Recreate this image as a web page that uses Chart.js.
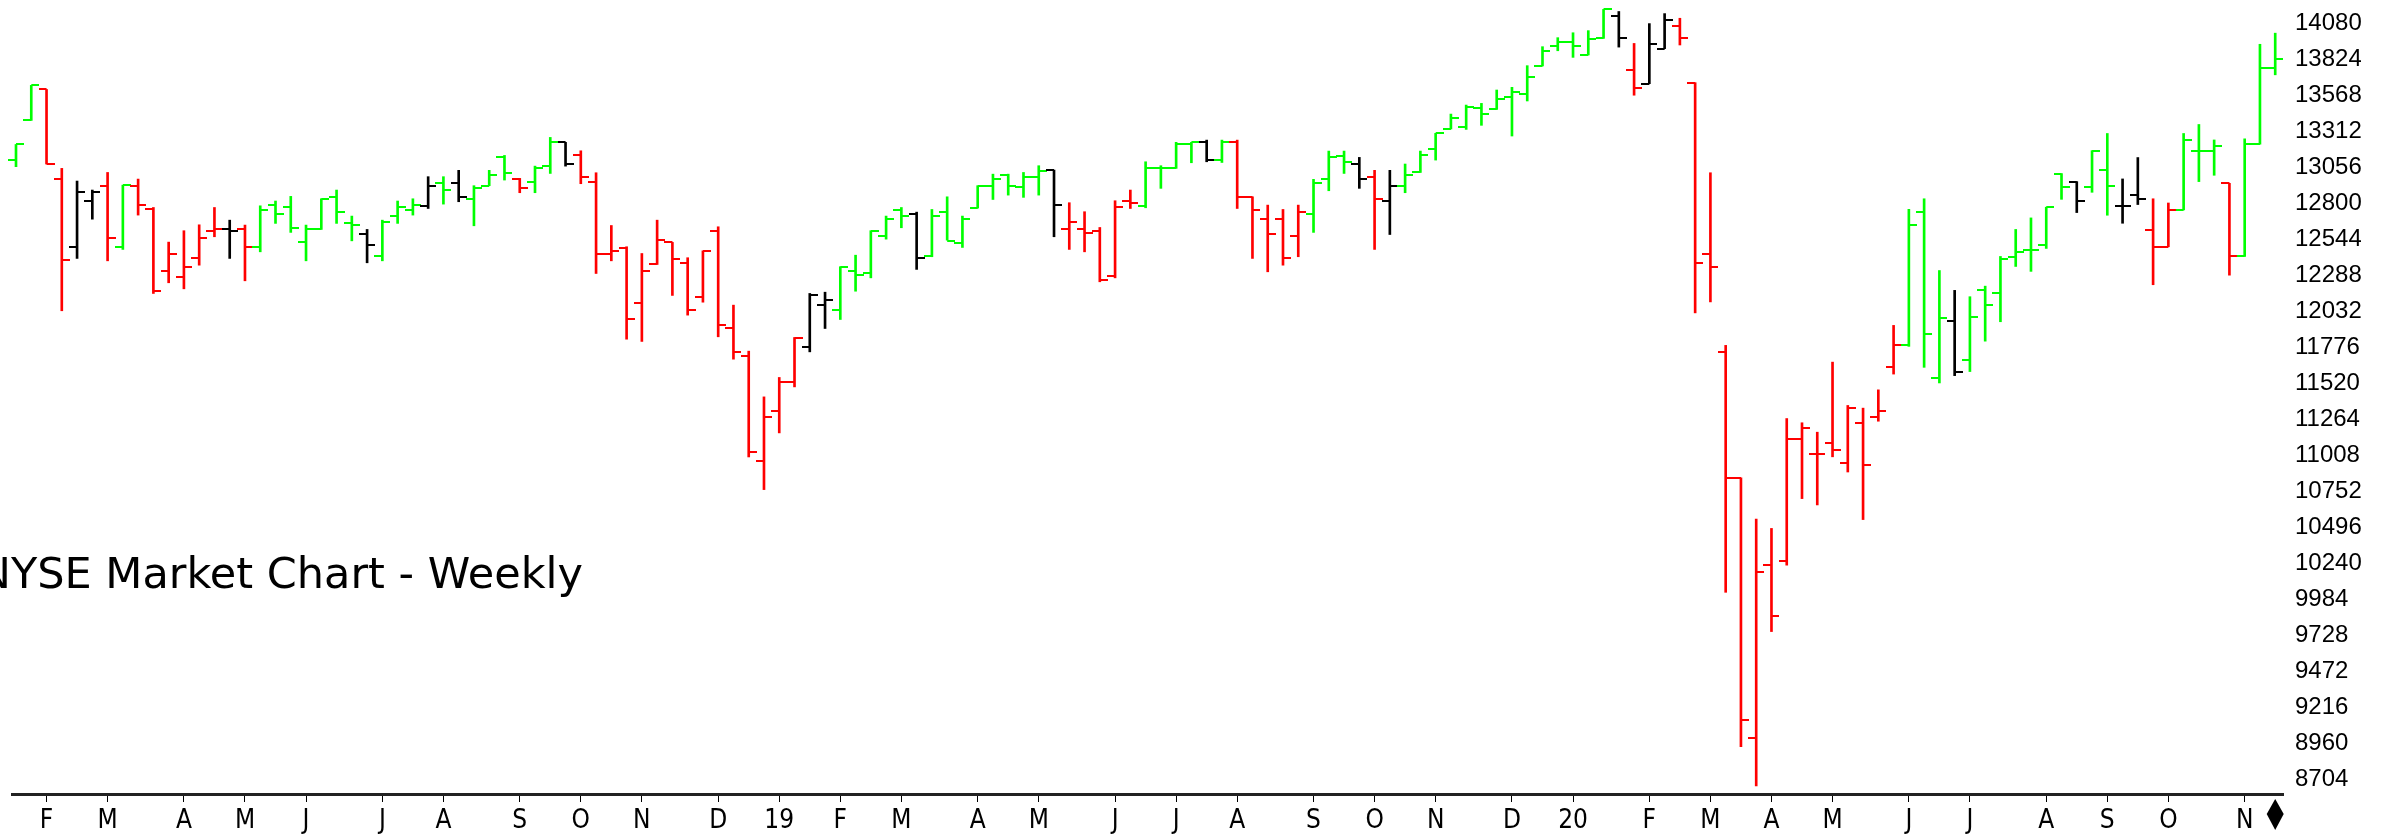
<!DOCTYPE html>
<html>
<head>
<meta charset="utf-8">
<title>NYSE Market Chart - Weekly</title>
<script src="https://cdn.jsdelivr.net/npm/chart.js@4.4.1/dist/chart.umd.min.js"></script>
<style>
  html, body { margin: 0; padding: 0; background: #ffffff; }
  #wrap { width: 2391px; height: 837px; }
</style>
</head>
<body>
<div id="wrap"><canvas id="nyse-canvas"></canvas></div>
<script>
var chartTitle = "NYSE Market Chart - Weekly";

// weekly OHLC, week 1 = Jan 19 2018 ... week 149 = Nov 20 2020
var opens = [
  13107, 13387, 13607, 12968, 12489, 12814, 12923, 12486, 12923, 12754,
  12318, 12273, 12411, 12598, 12612, 12612, 12486, 12785, 12768, 12520,
  12612, 12844, 12659, 12581, 12425, 12707, 12752, 12780, 12939, 12939,
  12828, 12923, 13129, 12968, 12951, 13062, 13231, 13138, 12951, 12441,
  12477, 12086, 12363, 12520, 12377, 12133, 12600, 11913, 11716, 10967,
  11322, 11526, 11778, 12072, 12038, 12318, 12299, 12565, 12749, 12721,
  12422, 12735, 12515, 12764, 12923, 12996, 12911, 12982, 13034, 12612,
  12612, 12603, 12283, 12814, 12780, 13046, 13046, 13216, 13231, 13105,
  13231, 12844, 12685, 12685, 12565, 12719, 12968, 13136, 13077, 12982,
  12814, 12923, 13017, 13183, 13326, 13337, 13477, 13465, 13555, 13572,
  13774, 13916, 13946, 13852, 13970, 14131, 13748, 13648, 13897, 14057,
  13655, 12439, 11744, 10847, 8999, 10226, 10252, 11126, 11015, 11093,
  10951, 11238, 11279, 11632, 11788, 12737, 11558, 11963, 11684, 12179,
  12160, 12415, 12466, 12504, 13009, 12952, 12914, 13035, 12781, 12857,
  12610, 12489, 12751, 13168, 13168, 12940, 12420, 13218, 13757
];
var highs = [
  13216, 13636, 13607, 13046, 12956, 12892, 13017, 12927, 12970, 12768,
  12522, 12603, 12645, 12768, 12678, 12643, 12780, 12814, 12847, 12643,
  12830, 12892, 12707, 12612, 12678, 12814, 12830, 12987, 12987, 13032,
  12923, 13032, 13138, 12975, 13062, 13266, 13231, 13171, 13015, 12640,
  12489, 12441, 12678, 12520, 12411, 12460, 12631, 12074, 11747, 11422,
  11560, 11844, 12157, 12166, 12347, 12429, 12603, 12707, 12768, 12735,
  12754, 12844, 12707, 12923, 13005, 13005, 13017, 13065, 13034, 12802,
  12738, 12626, 12816, 12892, 13093, 13065, 13231, 13231, 13247, 13247,
  13247, 12844, 12785, 12754, 12785, 12968, 13169, 13169, 13124, 13032,
  13032, 13077, 13169, 13295, 13432, 13496, 13508, 13603, 13622, 13776,
  13911, 13975, 14010, 14025, 14176, 14161, 13934, 14075, 14146, 14113,
  13655, 13015, 11788, 10847, 10554, 10487, 11268, 11238, 11171, 11669,
  11361, 11342, 11472, 11930, 12755, 12830, 12320, 12179, 12134, 12209,
  12420, 12612, 12694, 12770, 13009, 12952, 13172, 13294, 12971, 13123,
  12830, 12800, 13294, 13358, 13248, 12940, 13256, 13928, 14007
];
var lows = [
  13058, 13387, 13077, 12034, 12406, 12685, 12389, 12470, 12714, 12157,
  12233, 12190, 12358, 12560, 12406, 12247, 12453, 12655, 12591, 12389,
  12612, 12655, 12531, 12375, 12389, 12655, 12714, 12761, 12792, 12809,
  12638, 12923, 12963, 12873, 12873, 13010, 13062, 12937, 12299, 12389,
  11832, 11816, 12363, 12143, 12003, 12095, 11849, 11690, 10995, 10763,
  11166, 11493, 11742, 11908, 11972, 12173, 12268, 12543, 12624, 12328,
  12418, 12536, 12484, 12764, 12825, 12856, 12840, 12856, 12560, 12470,
  12453, 12240, 12268, 12761, 12766, 12904, 13046, 13086, 13093, 13088,
  12761, 12406, 12311, 12358, 12418, 12591, 12887, 13010, 12904, 12470,
  12576, 12873, 13017, 13105, 13326, 13323, 13352, 13465, 13276, 13525,
  13774, 13882, 13835, 13852, 13970, 13908, 13566, 13648, 13897, 13923,
  12019, 12097, 10033, 8936, 8657, 9754, 10226, 10699, 10654, 10996,
  10888, 10550, 11249, 11584, 11781, 11632, 11521, 11573, 11602, 11818,
  11956, 12349, 12314, 12477, 12826, 12732, 12876, 12713, 12656, 12789,
  12219, 12489, 12751, 12952, 12997, 12287, 12420, 13218, 13711
];
var closes = [
  13216, 13636, 13077, 12394, 12875, 12875, 12550, 12927, 12785, 12173,
  12441, 12347, 12550, 12612, 12598, 12486, 12752, 12719, 12624, 12612,
  12830, 12738, 12643, 12503, 12664, 12768, 12783, 12923, 12892, 12844,
  12904, 13001, 13015, 12904, 13046, 13231, 13077, 12987, 12441, 12456,
  11974, 12316, 12536, 12399, 12038, 12460, 11932, 11744, 11029, 11280,
  11526, 11837, 12145, 12114, 12342, 12285, 12600, 12688, 12707, 12411,
  12707, 12531, 12688, 12923, 12968, 12923, 12982, 13029, 12783, 12662,
  12584, 12252, 12768, 12797, 13046, 13046, 13216, 13231, 13105, 13231,
  12844, 12749, 12579, 12411, 12735, 12939, 13129, 13088, 12968, 12825,
  12923, 13001, 13138, 13295, 13401, 13480, 13432, 13541, 13591, 13698,
  13882, 13946, 13916, 13963, 14176, 13975, 13618, 13927, 14101, 13975,
  12376, 12346, 10847, 9122, 10174, 9866, 11126, 11201, 11015, 11044,
  11342, 10940, 11323, 11788, 12644, 11870, 11982, 11602, 11993, 12075,
  12402, 12454, 12466, 12770, 12914, 12815, 13168, 12921, 12781, 12830,
  12489, 12751, 13248, 13168, 13206, 12420, 13218, 13757, 13825
];
// bar state: 1 up, -1 down, 0 neutral
var trend = [
  1, 1, -1, -1, 0, 0, -1, 1, -1, -1,
  -1, -1, -1, -1, 0, -1, 1, 1, 1, 1,
  1, 1, 1, 0, 1, 1, 1, 0, 1, 0,
  1, 1, 1, -1, 1, 1, 0, -1, -1, -1,
  -1, -1, -1, -1, -1, -1, -1, -1, -1, -1,
  -1, -1, 0, 0, 1, 1, 1, 1, 1, 0,
  1, 1, 1, 1, 1, 1, 1, 1, 0, -1,
  -1, -1, -1, -1, 1, 1, 1, 1, 0, 1,
  -1, -1, -1, -1, -1, 1, 1, 1, 0, -1,
  0, 1, 1, 1, 1, 1, 1, 1, 1, 1,
  1, 1, 1, 1, 1, 0, -1, 0, 0, -1,
  -1, -1, -1, -1, -1, -1, -1, -1, -1, -1,
  -1, -1, -1, -1, 1, 1, 1, 0, 1, 1,
  1, 1, 1, 1, 1, 0, 1, 1, 0, 0,
  -1, -1, 1, 1, 1, -1, 1, 1, 1
];

var monthTickWeeks = [3, 7, 12, 16, 20, 25, 29, 34, 38, 42, 47, 51, 55, 59, 64, 68, 73, 77, 81, 86,
  90, 94, 99, 103, 108, 112, 116, 120, 125, 129, 134, 138, 142, 147];
var monthTickLabels = ["F", "M", "A", "M", "J", "J", "A", "S", "O", "N", "D", "19", "F", "M", "A", "M", "J", "J", "A", "S",
  "O", "N", "D", "20", "F", "M", "A", "M", "J", "J", "A", "S", "O", "N"];
var priceTicks = [8704, 8960, 9216, 9472, 9728, 9984, 10240, 10496, 10752, 11008, 11264,
  11520, 11776, 12032, 12288, 12544, 12800, 13056, 13312, 13568, 13824, 14080];

var weeks = opens.map(function (v, i) { return i + 1; });

var trendColors = { "1": "#00ff00", "-1": "#ff0000", "0": "#000000" };

function tickImage(color, side) {
  var c = document.createElement("canvas");
  c.width = 16;
  c.height = 2;
  var g = c.getContext("2d");
  g.fillStyle = color;
  if (side === "left") g.fillRect(0, 0, 8, 2);
  else g.fillRect(8, 0, 8, 2);
  return c;
}
var openMarks = {}, closeMarks = {};
Object.keys(trendColors).forEach(function (k) {
  openMarks[k] = tickImage(trendColors[k], "left");
  closeMarks[k] = tickImage(trendColors[k], "right");
});

var titlePlugin = {
  id: "chartTitle",
  afterDraw: function (chart) {
    var ctx = chart.ctx;
    ctx.save();
    ctx.font = "43px 'DejaVu Sans', Verdana, sans-serif";
    ctx.fillStyle = "#000";
    ctx.textAlign = "right";
    ctx.textBaseline = "alphabetic";
    ctx.fillText(chartTitle, 583, 588);
    ctx.restore();
  }
};

// current-bar diamond under the axis
var lastBarPlugin = {
  id: "lastBar",
  afterDraw: function (chart) {
    var ctx = chart.ctx;
    var x = chart.scales.x.getPixelForValue(weeks[weeks.length - 1]);
    var top = chart.chartArea.bottom + 5;
    ctx.save();
    ctx.fillStyle = "#000";
    ctx.beginPath();
    ctx.moveTo(x, top);
    ctx.lineTo(x + 8.5, top + 15);
    ctx.lineTo(x, top + 31);
    ctx.lineTo(x - 8.5, top + 15);
    ctx.closePath();
    ctx.fill();
    ctx.restore();
  }
};

new Chart(document.getElementById("nyse-canvas"), {
  data: {
    datasets: [
      {
        type: "bar",
        label: "range",
        data: weeks.map(function (w, i) { return { x: w, y: [lows[i], highs[i]] }; }),
        backgroundColor: function (ctx) { return trendColors[String(trend[ctx.dataIndex])]; },
        barThickness: 2,
        borderWidth: 0,
        clip: false
      },
      {
        type: "scatter",
        label: "open",
        data: weeks.map(function (w, i) { return { x: w, y: opens[i] }; }),
        pointStyle: function (ctx) { return openMarks[String(trend[ctx.dataIndex])]; },
        pointRadius: 8,
        pointHoverRadius: 8,
        clip: false
      },
      {
        type: "scatter",
        label: "close",
        data: weeks.map(function (w, i) { return { x: w, y: closes[i] }; }),
        pointStyle: function (ctx) { return closeMarks[String(trend[ctx.dataIndex])]; },
        pointRadius: 8,
        pointHoverRadius: 8,
        clip: false
      }
    ]
  },
  options: {
    responsive: true,
    maintainAspectRatio: false,
    animation: false,
    events: [],
    layout: { padding: { left: 12, right: 30, top: 0, bottom: 0 } },
    plugins: {
      legend: { display: false },
      tooltip: { enabled: false },
      title: { display: false }
    },
    scales: {
      x: {
        type: "linear",
        offset: false,
        min: 0.738,
        max: 149.51,
        afterBuildTicks: function (scale) {
          scale.ticks = monthTickWeeks.map(function (w) { return { value: w }; });
        },
        afterFit: function (scale) { scale.height = 43; },
        ticks: {
          autoSkip: false,
          maxRotation: 0,
          padding: 4,
          color: "#000",
          font: { family: "'Liberation Sans Narrow', 'DejaVu Sans Condensed', 'Liberation Sans', sans-serif", size: 26 },
          callback: function (v, i) { return monthTickLabels[i]; }
        },
        grid: { display: true, offset: false, drawOnChartArea: false, drawTicks: true, tickLength: 8, tickColor: "#000", tickWidth: 1 },
        border: { display: true, color: "#222", width: 3 }
      },
      y: {
        type: "linear",
        position: "right",
        min: 8599.5,
        max: 14140.4,
        afterBuildTicks: function (scale) {
          scale.ticks = priceTicks.map(function (v) { return { value: v }; });
        },
        afterFit: function (scale) { scale.width = 78; },
        ticks: {
          padding: 0,
          color: "#000",
          font: { family: "'Liberation Sans', Arial, sans-serif", size: 24 },
          callback: function (v) { return String(v); }
        },
        grid: { display: true, drawOnChartArea: false, drawTicks: true, tickLength: 12, tickColor: "rgba(0,0,0,0)" },
        border: { display: false }
      }
    }
  },
  plugins: [titlePlugin, lastBarPlugin]
});
</script>
</body>
</html>
